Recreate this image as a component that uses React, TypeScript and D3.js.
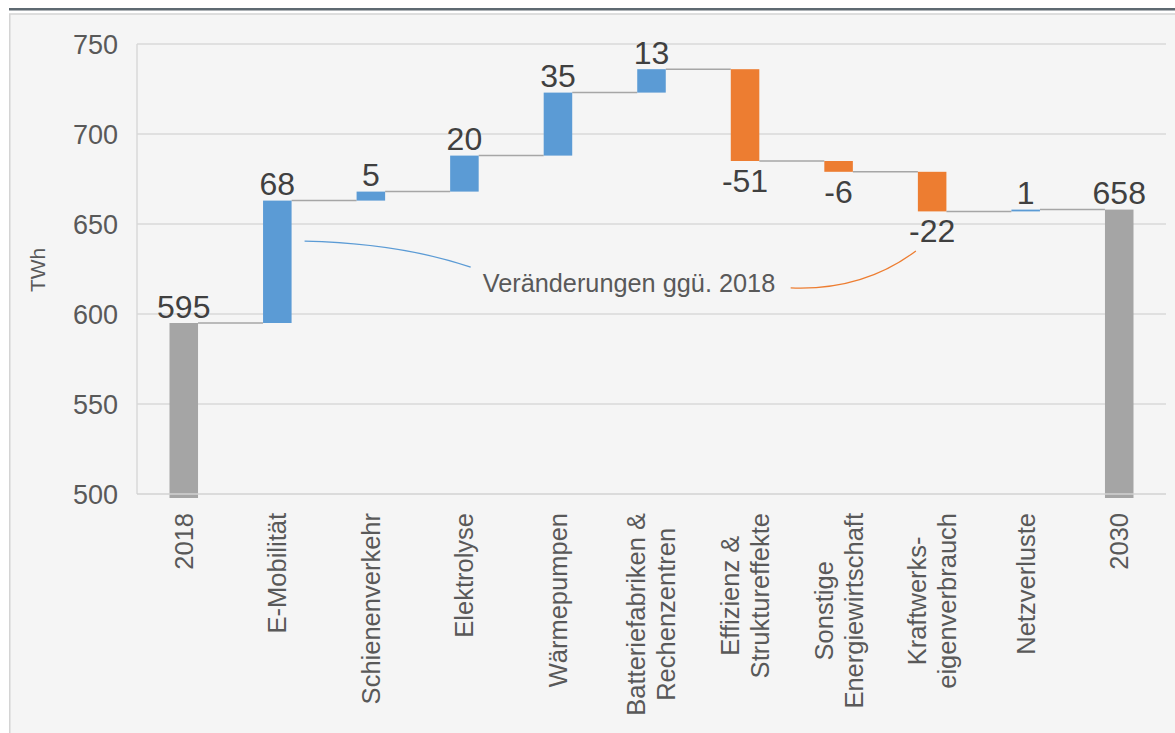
import React, { useEffect, useRef } from "react";
import * as d3 from "d3";

const categories = [
  "2018",
  "E-Mobilität",
  "Schienenverkehr",
  "Elektrolyse",
  "Wärmepumpen",
  "Batteriefabriken &\nRechenzentren",
  "Effizienz &\nStruktureffekte",
  "Sonstige\nEnergiewirtschaft",
  "Kraftwerks-\neigenverbrauch",
  "Netzverluste",
  "2030",
];
// kind: total or delta
const kinds = ["total", "delta", "delta", "delta", "delta", "delta", "delta", "delta", "delta", "delta", "total"];
const values = [595, 68, 5, 20, 35, 13, -51, -6, -22, 1, 658];
const yTicks = [500, 550, 600, 650, 700, 750];
const annotationText = "Veränderungen ggü. 2018";
const yTitle = "TWh";

const W = 1175;
const H = 733;

export default function App() {
  const ref = useRef<SVGSVGElement | null>(null);

  useEffect(() => {
    const svg = d3.select(ref.current);
    svg.selectAll("*").remove();

    const font = "'Liberation Sans', Arial, sans-serif";
    const left = 137, right = 1166, top = 44, bottom = 494;

    // frame
    svg.append("rect").attr("x", 0).attr("y", 0).attr("width", W).attr("height", H).attr("fill", "#ffffff");
    svg.append("rect").attr("x", 9.75).attr("y", 14).attr("width", W).attr("height", H)
      .attr("fill", "#f5f5f5").attr("stroke", "#d4d4d4").attr("stroke-width", 1.5);
    svg.append("rect").attr("x", 9).attr("y", 8).attr("width", W).attr("height", 2.5).attr("fill", "#5e6971");

    const x = d3.scaleBand<string>().domain(categories).range([left, right])
      .paddingInner(0.695).paddingOuter(0.3475);
    const y = d3.scaleLinear().domain([500, 750]).range([bottom, top]);

    // gridlines
    svg.append("g").selectAll("line").data(yTicks.filter(t => t !== 500)).join("line")
      .attr("x1", left).attr("x2", right)
      .attr("y1", d => y(d)).attr("y2", d => y(d))
      .attr("stroke", "#d9d9d9").attr("stroke-width", 1.5);

    // y tick labels
    svg.append("g").selectAll("text").data(yTicks).join("text")
      .attr("x", 118).attr("y", d => y(d)).attr("dy", "0.36em")
      .attr("text-anchor", "end").attr("font-family", font).attr("font-size", 27)
      .attr("fill", "#595959").text(d => d);

    // y title
    svg.append("text").attr("transform", `translate(45,${y(624.5)}) rotate(-90)`)
      .attr("text-anchor", "middle").attr("font-family", font).attr("font-size", 21)
      .attr("fill", "#595959").text(yTitle);

    // compute waterfall
    const bars: { cat: string; v0: number; v1: number; kind: string; val: number }[] = [];
    let run = 0;
    categories.forEach((c, i) => {
      if (kinds[i] === "total") {
        bars.push({ cat: c, v0: 500, v1: values[i], kind: "total", val: values[i] });
        run = values[i];
      } else {
        const v0 = run;
        run = run + values[i];
        bars.push({ cat: c, v0, v1: run, kind: values[i] >= 0 ? "up" : "down", val: values[i] });
      }
    });
    const colorOf = (k: string) => (k === "total" ? "#a5a5a5" : k === "up" ? "#5b9bd5" : "#ed7d31");
    const bw = x.bandwidth();

    // connectors
    const conns = bars.slice(0, -1).map((b, i) => ({ x1: x(b.cat)! + bw, x2: x(bars[i + 1].cat)!, v: b.v1 }));
    svg.append("g").selectAll("line").data(conns).join("line")
      .attr("x1", d => d.x1).attr("x2", d => d.x2)
      .attr("y1", d => y(d.v)).attr("y2", d => y(d.v))
      .attr("stroke", "#a6a6a6").attr("stroke-width", 1.5);

    // bars
    svg.append("g").selectAll("rect").data(bars).join("rect")
      .attr("x", d => x(d.cat)!)
      .attr("width", bw)
      .attr("y", d => y(Math.max(d.v0, d.v1)))
      .attr("height", d => {
        const h = Math.abs(y(d.v0) - y(d.v1));
        return d.kind === "total" ? h + 4 : Math.max(h, 1.5);
      })
      .attr("fill", d => colorOf(d.kind));

    // axes lines
    svg.append("line").attr("x1", left).attr("x2", left).attr("y1", top).attr("y2", bottom)
      .attr("stroke", "#d9d9d9").attr("stroke-width", 1.5);
    svg.append("line").attr("x1", left).attr("x2", right).attr("y1", bottom).attr("y2", bottom)
      .attr("stroke", "#d2d2d2").attr("stroke-width", 1.5);

    // data labels
    svg.append("g").selectAll("text").data(bars).join("text")
      .attr("x", d => x(d.cat)! + bw / 2)
      .attr("y", d => d.kind === "down" ? y(Math.min(d.v0, d.v1)) + 31 : y(Math.max(d.v0, d.v1)) - 5.5)
      .attr("text-anchor", "middle").attr("font-family", font).attr("font-size", 32)
      .attr("fill", "#404040").text(d => d.val);

    // category labels
    const catG = svg.append("g");
    categories.forEach(c => {
      const lines = c.split("\n");
      const cx = x(c)! + bw / 2;
      const g = catG.append("g");
      const texts = lines.map((ln, i) =>
        g.append("text")
          .attr("x", 0)
          .attr("y", (i - (lines.length - 1) / 2) * 30)
          .attr("dy", "0.35em")
          .attr("text-anchor", "middle")
          .attr("font-family", font).attr("font-size", 25.5)
          .attr("fill", "#595959").text(ln)
      );
      const maxLen = d3.max(texts, t => (t.node() as SVGTextElement).getComputedTextLength()) || 0;
      g.attr("transform", `translate(${cx},${513 + maxLen / 2}) rotate(-90)`);
    });

    // annotation
    const eMob = categories[1];
    const kraft = categories[8];
    const tx = x(categories[3])! + bw + 4;
    const ty = y(612);
    svg.append("text").attr("x", tx).attr("y", ty)
      .attr("font-family", font).attr("font-size", 25.3).attr("fill", "#595959").text(annotationText);
    const sx = x(eMob)! + bw + 13, sy = y(640.5);
    const ex = tx - 12, ey = y(626);
    svg.append("path")
      .attr("d", `M${sx},${sy} Q${sx + 95},${sy + 2} ${ex},${ey}`)
      .attr("fill", "none").attr("stroke", "#5b9bd5").attr("stroke-width", 1.3);
    const ox0 = tx + 308, oy0 = y(614.5);
    const ox1 = x(kraft)! - 2, oy1 = y(635);
    svg.append("path")
      .attr("d", `M${ox0},${oy0} Q${ox0 + 72},${oy0 + 3} ${ox1},${oy1}`)
      .attr("fill", "none").attr("stroke", "#ed7d31").attr("stroke-width", 1.3);
  }, []);

  return (
    <svg ref={ref} width={W} height={H}
      style={{ position: "absolute", left: 0, top: 0, display: "block" }} />
  );
}
